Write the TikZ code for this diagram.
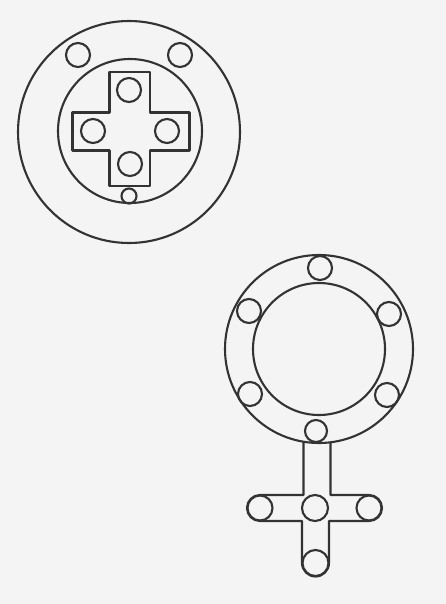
\documentclass[tikz,border=0pt]{standalone}
\begin{document}
\begin{tikzpicture}[x=1pt,y=-1pt,
  ink/.style={draw=black!80, line width=2.1pt, line join=round},
  ring/.style={ink}]
\definecolor{paper}{RGB}{245,244,245}
\fill[paper] (0,0) rectangle (446,604);
\useasboundingbox (0,0) rectangle (446,604);
% ---- top figure ----
\draw[ring] (129,132) circle[radius=111pt];
\draw[ring] (130,131) circle[radius=72pt];
\draw[ink] (109.5,72) -- (150,72) -- (150,112.5) -- (189.5,112.5) -- (189.5,150.5)
  -- (150,150.5) -- (150,186) -- (109.5,186) -- (109.5,150.5) -- (72.5,150.5)
  -- (72.5,112.5) -- (109.5,112.5) -- cycle;
\draw[ink] (129,90) circle[radius=12pt];
\draw[ink] (93,131) circle[radius=12pt];
\draw[ink] (167,131) circle[radius=12pt];
\draw[ink] (130,164) circle[radius=12pt];
\draw[ink] (129,196) circle[radius=7.5pt];
\draw[ink] (78,55) circle[radius=12pt];
\draw[ink] (180,55) circle[radius=12pt];
% ---- bottom figure ----
\draw[ring] (319,349) circle[radius=94pt];
\draw[ring] (319,349) circle[radius=66pt];
\draw[ink] (320,268) circle[radius=12pt];
\draw[ink] (249,311) circle[radius=12pt];
\draw[ink] (389,314) circle[radius=12pt];
\draw[ink] (250,394) circle[radius=12pt];
\draw[ink] (387,395) circle[radius=12pt];
\draw[ink] (316,431) circle[radius=11pt];
\draw[ink] (303.5,441.7) -- (303.5,495) -- (260,495)
  arc[start angle=90, end angle=270, radius=13pt]
  -- (302,521) -- (302,563)
  arc[start angle=180, end angle=360, radius=13.5pt]
  -- (329,521) -- (369,521)
  arc[start angle=-90, end angle=90, radius=13pt]
  -- (330.5,495) -- (330.5,442.3);
\draw[ink] (260,508) circle[radius=12.5pt];
\draw[ink] (369,508) circle[radius=12.5pt];
\draw[ink] (315,508) circle[radius=13pt];
\draw[ink] (315.5,563) circle[radius=13pt];
\end{tikzpicture}
\end{document}
